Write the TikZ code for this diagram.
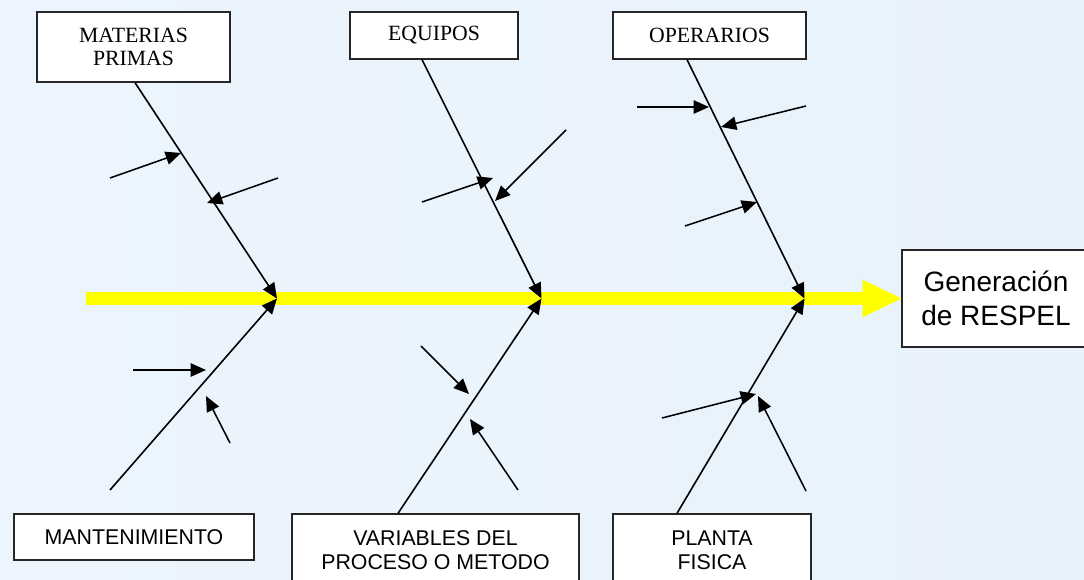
\documentclass[tikz,border=0pt]{standalone}
\usepackage{fontspec}
\setmainfont{Liberation Serif}
\setsansfont{Liberation Sans}
\usetikzlibrary{arrows.meta,calc}
\definecolor{bgleft}{RGB}{236,245,253}
\definecolor{bgmid}{RGB}{241,249,254}
\definecolor{bgright}{RGB}{232,242,252}
\definecolor{spineyellow}{RGB}{255,255,0}

\begin{document}
\begin{tikzpicture}[x=0.75pt, y=-0.75pt,
  topbox/.style={draw=black!85, line width=1pt, fill=white, align=center, inner sep=0pt,
    font=\fontsize{16.3}{17}\selectfont},
  botbox/.style={draw=black!85, line width=1pt, fill=white, align=center, inner sep=0pt,
    font=\sffamily\fontsize{16}{18}\selectfont},
  bone/.style={-{Triangle[length=11.5pt, width=10pt]}, line width=1.2pt},
  sub/.style={-{Triangle[length=11.5pt, width=10pt]}, line width=1.15pt},
  spine/.style={-{Triangle[length=29pt, width=28pt, line width=0.01pt]}, line width=9.75pt, draw=spineyellow}
]
  \useasboundingbox (0,0) rectangle (1084,580);
  \shade[left color=bgleft, middle color=bgmid, right color=bgright] (0,0) rectangle (1084,580);

  % causes
  \node[topbox, minimum width=193*0.75pt, minimum height=70*0.75pt] (mat) at (133.5,47) {MATERIAS\\PRIMAS};
  \node[topbox, minimum width=168*0.75pt, minimum height=47*0.75pt] (equ) at (434,35.5) {EQUIPOS};
  \node[topbox, minimum width=193*0.75pt, minimum height=47*0.75pt] (ope) at (709.5,35.5) {OPERARIOS};
  \node[botbox, minimum width=240*0.75pt, minimum height=46*0.75pt] (man) at (134,537) {MANTENIMIENTO};
  \node[botbox, minimum width=287*0.75pt, minimum height=72*0.75pt] (var) at (435.5,550) {VARIABLES DEL\\PROCESO O METODO};
  \node[botbox, minimum width=198*0.75pt, minimum height=72*0.75pt] (pla) at (712,550) {PLANTA\\FISICA};

  % effect
  \node[botbox, font=\sffamily\fontsize{21}{25.5}\selectfont,
    minimum width=188*0.75pt, minimum height=97*0.75pt] (gen) at (996,298.5) {Generación\\de RESPEL};

  \coordinate (s0) at (86,298.5);
  \coordinate (j1) at (277,298.5);
  \coordinate (j2) at (541.5,298.5);
  \coordinate (j3) at (804.5,298.5);
  \coordinate (n0) at (110,490);

  \draw[spine] (s0) -- (gen.west);

  \draw[bone] ($(mat.south)+(1.5,0)$) -- (j1);
  \draw[bone] ($(equ.south)+(-12,0)$) -- (j2);
  \draw[bone] ($(ope.south)+(-22.5,0)$) -- (j3);
  \draw[bone] (n0) -- (j1);
  \draw[bone] ($(var.north)+(-37.5,0)$) -- (j2);
  \draw[bone] ($(pla.north)+(-35,0)$) -- (j3);

  % sub causes
  \coordinate (m1a) at (110,178); \coordinate (m1b) at (181,153);
  \coordinate (m2a) at (278,178); \coordinate (m2b) at (207,203);
  \coordinate (e1a) at (422,202); \coordinate (e1b) at (493,178);
  \coordinate (e2a) at (566,130); \coordinate (e2b) at (495,201);
  \coordinate (o1a) at (637,107); \coordinate (o1b) at (709,107);
  \coordinate (o2a) at (806,106); \coordinate (o2b) at (721,127);
  \coordinate (o3a) at (685,226); \coordinate (o3b) at (757,202);
  \coordinate (n1a) at (133,370); \coordinate (n1b) at (206,370);
  \coordinate (n2a) at (230,443); \coordinate (n2b) at (206,396);
  \coordinate (v1a) at (421,346); \coordinate (v1b) at (469,394);
  \coordinate (v2a) at (518,490); \coordinate (v2b) at (470,419);
  \coordinate (p1a) at (662,418); \coordinate (p1b) at (756,394);
  \coordinate (p2a) at (806,491); \coordinate (p2b) at (758,396);

  \draw[sub] (m1a) -- (m1b);
  \draw[sub] (m2a) -- (m2b);
  \draw[sub] (e1a) -- (e1b);
  \draw[sub] (e2a) -- (e2b);
  \draw[sub] (o1a) -- (o1b);
  \draw[sub] (o2a) -- (o2b);
  \draw[sub] (o3a) -- (o3b);
  \draw[sub] (n1a) -- (n1b);
  \draw[sub] (n2a) -- (n2b);
  \draw[sub] (v1a) -- (v1b);
  \draw[sub] (v2a) -- (v2b);
  \draw[sub] (p1a) -- (p1b);
  \draw[sub] (p2a) -- (p2b);
\end{tikzpicture}
\end{document}
